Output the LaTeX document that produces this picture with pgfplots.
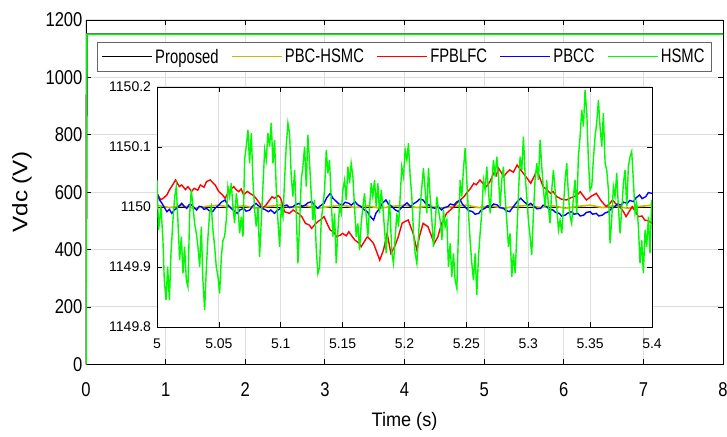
\documentclass[border=0pt]{standalone}
\usepackage{fontspec}
\setmainfont{Liberation Sans}
\newfontfamily\tickfont{Liberation Sans}[FakeStretch=0.83]
\newfontfamily\legfont{Liberation Sans}[FakeStretch=0.76]
\newfontfamily\labfont{Liberation Sans}[FakeStretch=0.93]
\newfontfamily\ylabfont{Liberation Sans}[FakeStretch=1.15]
\usepackage{pgfplots}
\pgfplotsset{compat=1.18}
\definecolor{cyel}{RGB}{210,185,0}
\definecolor{cgrn}{RGB}{0,250,0}
\definecolor{gridc}{RGB}{222,222,222}
\begin{document}
\begin{tikzpicture}
\useasboundingbox (-86pt,-71.7pt) rectangle (641pt,364.3pt);
\begin{axis}[name=main, at={(0pt,0pt)}, anchor=south west, scale only axis,
  width=637pt, height=344.3pt, xmin=0, xmax=8, ymin=0, ymax=1200,
  xtick={0,1,...,8}, ytick={0,200,...,1200},
  grid=major, major grid style={gridc, line width=1pt},
  tick align=inside, major tick length=5pt,
  axis line style={line width=0.9pt},
  every tick/.style={black, line width=0.8pt},
  /pgf/number format/assume math mode=true, /pgf/number format/1000 sep={},
  scaled ticks=false,
  tick label style={font=\fontsize{20}{20}\tickfont},
  x tick label style={anchor=base, yshift=-32.4pt},
  xlabel={Time (s)}, ylabel={Vdc (V)},
  xlabel style={font=\fontsize{19.5}{20}\labfont, at={(axis description cs:0.5,-0.1792)}, anchor=base},
  ylabel style={font=\fontsize{21}{22}\ylabfont, at={(axis description cs:-0.1005,0.5)}, anchor=center},
  legend columns=5,
  legend style={at={(0.0173,0.936)}, anchor=north west, draw=black!60, line width=0.8pt, fill=white,
    font=\fontsize{19.5}{20}\legfont, inner ysep=1.5pt, inner xsep=4pt,
    nodes={inner xsep=2.5pt, inner ysep=5pt},
    /tikz/every even column/.append style={column sep=10pt}},
  legend image code/.code={\draw[#1, line width=1.3pt] (0pt,0pt) -- (50pt,0pt);},
]
\addplot[black, line width=1.3pt] coordinates {(0,0)(0.01,1150)(8,1150)};
\addlegendentry{Proposed}
\addplot[cyel, line width=1.3pt] coordinates {(0,0)(0.01,1150)(8,1150)};
\addlegendentry{PBC-HSMC}
\addplot[red, line width=1.3pt] coordinates {(0,0)(0.01,1150)(8,1150)};
\addlegendentry{FPBLFC}
\addplot[blue, line width=1.3pt] coordinates {(0,0)(0.01,1150)(8,1150)};
\addlegendentry{PBCC}
\addplot[cgrn, line width=1.6pt] coordinates {(0,0)(0.01,1150)(8,1150)};
\addlegendentry{HSMC}
\end{axis}
% Inset (zoom 5 s to 5.4 s). y values below are Vdc - 1150 V (deviation from the 1150 V reference),
% kept as offsets so that TeX's arithmetic keeps their precision; tick labels show the absolute voltage.
\begin{axis}[at={(71pt,37.3pt)}, anchor=south west, scale only axis,
  width=495pt, height=240pt, xmin=5, xmax=5.4, ymin=-0.2, ymax=0.2,
  xtick={5,5.05,5.1,5.15,5.2,5.25,5.3,5.35,5.4},
  xticklabels={5,5.05,5.1,5.15,5.2,5.25,5.3,5.35,5.4},
  ytick={-0.2,-0.1,0,0.1,0.2},
  yticklabels={1149.8,1149.9,1150,1150.1,1150.2},
  grid=major, major grid style={gridc, line width=1pt},
  axis background/.style={fill=white},
  tick align=inside, major tick length=5pt,
  axis line style={line width=0.8pt},
  every tick/.style={black, line width=0.7pt},
  tick label style={font=\fontsize{14}{14}\selectfont},
  x tick label style={anchor=base, yshift=-21pt},
  y tick label style={xshift=-2.5pt},
]
\addplot[black, line width=1pt] coordinates {(5,0)(5.4,0)};
\addplot[cyel, line width=1.7pt] coordinates {(5.00,0.003)(5.01,-0.001)(5.02,0.002)(5.03,-0.002)(5.04,0.001)(5.05,0.003)(5.06,-0.001)(5.07,0.002)(5.08,-0.002)(5.09,0.001)(5.10,0.003)(5.11,-0.001)(5.12,0.002)(5.13,-0.002)(5.14,0.001)(5.15,0.003)(5.16,-0.001)(5.17,0.002)(5.18,-0.002)(5.19,0.001)(5.20,0.003)(5.21,-0.001)(5.22,0.002)(5.23,-0.002)(5.24,0.001)(5.25,0.003)(5.26,-0.001)(5.27,0.002)(5.28,-0.002)(5.29,0.001)(5.30,0.003)(5.31,-0.001)(5.32,0.002)(5.33,-0.002)(5.34,0.001)(5.35,0.003)(5.36,-0.001)(5.37,0.002)(5.38,-0.002)(5.39,0.001)(5.40,0.003)};
\addplot[red, line width=1.4pt] coordinates {(5.000,0.0228)(5.003,0.0120)(5.005,0.0145)(5.008,0.0200)(5.010,0.0284)(5.013,0.0380)(5.015,0.0451)(5.018,0.0340)(5.020,0.0367)(5.023,0.0290)(5.025,0.0339)(5.028,0.0260)(5.030,0.0312)(5.033,0.0280)(5.035,0.0367)(5.038,0.0330)(5.040,0.0423)(5.043,0.0451)(5.047,0.0367)(5.050,0.0256)(5.053,0.0200)(5.055,0.0145)(5.057,0.0220)(5.059,0.0284)(5.062,0.0339)(5.064,0.0290)(5.066,0.0256)(5.068,0.0300)(5.070,0.0200)(5.073,0.0260)(5.075,0.0228)(5.078,0.0190)(5.080,0.0145)(5.083,0.0060)(5.085,-0.0022)(5.088,0.0030)(5.090,0.0089)(5.093,0.0170)(5.095,0.0145)(5.098,0.0190)(5.100,0.0145)(5.103,-0.0078)(5.107,-0.0106)(5.110,-0.0050)(5.112,-0.0078)(5.115,-0.0120)(5.117,-0.0161)(5.120,-0.0273)(5.123,-0.0300)(5.125,-0.0356)(5.128,-0.0280)(5.130,-0.0245)(5.133,-0.0200)(5.135,-0.0161)(5.138,-0.0300)(5.140,-0.0384)(5.143,-0.0420)(5.145,-0.0495)(5.148,-0.0470)(5.150,-0.0440)(5.153,-0.0480)(5.155,-0.0412)(5.158,-0.0500)(5.160,-0.0551)(5.163,-0.0600)(5.165,-0.0662)(5.168,-0.0560)(5.170,-0.0495)(5.173,-0.0560)(5.175,-0.0607)(5.178,-0.0774)(5.180,-0.0885)(5.183,-0.0718)(5.186,-0.0440)(5.189,-0.0774)(5.192,-0.0662)(5.195,-0.0495)(5.198,-0.0273)(5.200,-0.0245)(5.203,-0.0217)(5.207,-0.0440)(5.210,-0.0718)(5.212,-0.0495)(5.215,-0.0273)(5.219,-0.0328)(5.222,-0.0495)(5.224,-0.0607)(5.227,-0.0495)(5.230,-0.0273)(5.234,-0.0106)(5.237,-0.0050)(5.240,0.0006)(5.242,0.0060)(5.245,0.0117)(5.248,0.0170)(5.250,0.0228)(5.253,0.0300)(5.256,0.0395)(5.258,0.0370)(5.261,0.0451)(5.263,0.0400)(5.266,0.0339)(5.269,0.0420)(5.272,0.0562)(5.274,0.0520)(5.276,0.0646)(5.278,0.0580)(5.280,0.0506)(5.283,0.0580)(5.285,0.0618)(5.288,0.0580)(5.291,0.0701)(5.293,0.0640)(5.296,0.0562)(5.299,0.0480)(5.302,0.0395)(5.305,0.0520)(5.307,0.0618)(5.310,0.0450)(5.312,0.0339)(5.315,0.0290)(5.318,0.0228)(5.320,0.0260)(5.323,0.0173)(5.327,0.0130)(5.331,0.0117)(5.334,0.0150)(5.337,0.0173)(5.340,0.0210)(5.342,0.0256)(5.345,0.0170)(5.347,0.0117)(5.351,0.0180)(5.355,0.0228)(5.359,0.0100)(5.363,0.0006)(5.366,0.0060)(5.368,0.0117)(5.371,0.0050)(5.374,0.0006)(5.377,-0.0080)(5.379,-0.0161)(5.382,-0.0060)(5.384,0.0006)(5.387,-0.0090)(5.389,-0.0161)(5.392,-0.0150)(5.394,-0.0217)(5.397,-0.0230)(5.400,-0.0273)};
\addplot[blue, line width=1.4pt] coordinates {(5.000,0.0228)(5.002,0.0120)(5.004,0.0061)(5.006,-0.0010)(5.008,-0.0078)(5.010,-0.0040)(5.012,-0.0106)(5.014,-0.0050)(5.016,-0.0022)(5.018,0.0020)(5.020,0.0061)(5.022,0.0010)(5.024,-0.0022)(5.026,0.0040)(5.028,0.0033)(5.030,-0.0010)(5.032,-0.0050)(5.034,0.0010)(5.036,0.0006)(5.038,-0.0040)(5.040,-0.0022)(5.042,-0.0060)(5.045,-0.0078)(5.047,-0.0020)(5.050,0.0033)(5.052,0.0080)(5.055,0.0117)(5.057,0.0040)(5.060,-0.0022)(5.062,-0.0060)(5.065,-0.0106)(5.067,-0.0050)(5.070,-0.0022)(5.072,-0.0070)(5.075,-0.0050)(5.077,0.0010)(5.080,0.0061)(5.082,0.0020)(5.085,-0.0022)(5.087,-0.0040)(5.090,-0.0078)(5.092,-0.0050)(5.095,-0.0106)(5.097,-0.0060)(5.100,-0.0022)(5.102,0.0020)(5.105,0.0033)(5.107,-0.0010)(5.110,0.0006)(5.112,0.0040)(5.115,0.0061)(5.117,0.0010)(5.120,0.0033)(5.122,0.0070)(5.125,0.0089)(5.127,0.0030)(5.130,-0.0022)(5.132,0.0020)(5.135,0.0061)(5.137,0.0150)(5.140,0.0228)(5.142,0.0150)(5.145,0.0089)(5.147,0.0050)(5.150,0.0033)(5.152,0.0080)(5.155,0.0061)(5.157,0.0030)(5.160,0.0089)(5.162,0.0040)(5.165,0.0006)(5.167,-0.0040)(5.170,-0.0078)(5.172,-0.0150)(5.175,-0.0217)(5.177,-0.0100)(5.180,-0.0022)(5.182,0.0060)(5.185,0.0117)(5.187,0.0050)(5.190,0.0006)(5.192,-0.0040)(5.195,-0.0078)(5.197,-0.0020)(5.200,0.0033)(5.202,0.0070)(5.205,0.0006)(5.207,0.0050)(5.210,0.0089)(5.212,0.0130)(5.215,0.0117)(5.217,0.0060)(5.220,0.0033)(5.222,-0.0010)(5.225,-0.0022)(5.227,0.0010)(5.230,-0.0050)(5.232,-0.0010)(5.235,0.0006)(5.237,0.0050)(5.240,0.0033)(5.242,0.0080)(5.245,0.0117)(5.247,0.0040)(5.250,-0.0022)(5.252,-0.0060)(5.255,-0.0078)(5.257,-0.0120)(5.260,-0.0106)(5.262,-0.0050)(5.265,-0.0022)(5.267,0.0020)(5.270,0.0006)(5.272,0.0050)(5.275,0.0033)(5.277,-0.0010)(5.280,-0.0022)(5.282,-0.0060)(5.285,-0.0078)(5.287,-0.0020)(5.290,0.0061)(5.292,0.0110)(5.294,0.0145)(5.297,0.0080)(5.300,0.0033)(5.302,0.0060)(5.305,0.0006)(5.307,-0.0030)(5.310,-0.0022)(5.312,0.0030)(5.315,0.0006)(5.317,-0.0040)(5.320,-0.0050)(5.322,-0.0090)(5.325,-0.0106)(5.327,-0.0150)(5.330,-0.0134)(5.332,-0.0100)(5.335,-0.0078)(5.337,-0.0120)(5.340,-0.0106)(5.342,-0.0150)(5.345,-0.0134)(5.347,-0.0090)(5.350,-0.0078)(5.352,-0.0120)(5.355,-0.0106)(5.357,-0.0150)(5.360,-0.0134)(5.362,-0.0100)(5.365,-0.0078)(5.367,-0.0030)(5.370,0.0006)(5.372,0.0050)(5.375,0.0033)(5.377,0.0080)(5.380,0.0061)(5.382,0.0110)(5.385,0.0089)(5.387,0.0150)(5.390,0.0200)(5.392,0.0140)(5.395,0.0173)(5.397,0.0240)(5.400,0.0228)};
\addplot[cgrn, line width=1.4pt] coordinates {(5.0000,0.0451)(5.0013,-0.0384)(5.0032,0.0006)(5.0048,-0.0551)(5.0059,-0.1219)(5.0073,-0.1553)(5.0086,-0.0996)(5.0100,-0.1553)(5.0113,-0.0774)(5.0129,-0.0217)(5.0143,0.0173)(5.0156,0.0339)(5.0170,-0.0273)(5.0183,-0.0885)(5.0197,-0.0495)(5.0210,-0.1107)(5.0223,-0.0662)(5.0237,-0.1219)(5.0250,-0.1330)(5.0264,-0.0106)(5.0277,0.0284)(5.0291,0.0006)(5.0304,-0.0273)(5.0318,-0.0440)(5.0331,-0.0662)(5.0345,-0.0996)(5.0358,-0.0328)(5.0371,-0.1219)(5.0385,-0.1720)(5.0398,-0.1052)(5.0412,-0.0495)(5.0425,-0.0106)(5.0439,0.0006)(5.0452,-0.0384)(5.0466,-0.0662)(5.0479,-0.0996)(5.0493,-0.1163)(5.0506,-0.1441)(5.0520,-0.0829)(5.0533,-0.0551)(5.0546,-0.0495)(5.0560,-0.0217)(5.0573,0.0339)(5.0587,0.0173)(5.0600,0.0395)(5.0614,0.0006)(5.0627,-0.0273)(5.0641,0.0228)(5.0654,0.0006)(5.0668,-0.0440)(5.0681,-0.0161)(5.0695,-0.0495)(5.0708,0.0785)(5.0721,0.1007)(5.0735,0.1286)(5.0748,0.0729)(5.0762,0.1230)(5.0775,0.0451)(5.0789,-0.0050)(5.0802,-0.0328)(5.0816,0.0006)(5.0829,-0.0829)(5.0843,-0.0217)(5.0856,0.0339)(5.0870,0.0952)(5.0883,0.0785)(5.0896,0.1230)(5.0910,0.1007)(5.0923,0.1397)(5.0937,0.0729)(5.0950,0.1119)(5.0964,0.0284)(5.0977,-0.0217)(5.0991,-0.0662)(5.1004,0.0006)(5.1018,-0.0161)(5.1031,0.0451)(5.1044,0.1007)(5.1058,0.1397)(5.1071,0.1230)(5.1085,0.0506)(5.1098,0.0173)(5.1112,0.0618)(5.1125,-0.0106)(5.1139,-0.0940)(5.1152,-0.0273)(5.1166,0.0451)(5.1179,0.0673)(5.1193,0.1007)(5.1206,0.0339)(5.1219,0.1202)(5.1233,0.0729)(5.1246,0.0228)(5.1260,-0.0217)(5.1273,0.0117)(5.1287,-0.0718)(5.1300,-0.1107)(5.1314,-0.0996)(5.1327,-0.0217)(5.1341,0.0006)(5.1354,0.0284)(5.1368,0.0952)(5.1381,0.0562)(5.1394,0.0785)(5.1408,0.0117)(5.1421,-0.0495)(5.1435,-0.0106)(5.1448,-0.0940)(5.1462,-0.0384)(5.1475,0.0006)(5.1489,-0.0106)(5.1502,0.0284)(5.1516,0.0451)(5.1529,0.0117)(5.1543,0.0673)(5.1556,0.0395)(5.1569,0.0729)(5.1583,0.0506)(5.1596,0.0006)(5.1610,-0.0495)(5.1623,-0.0273)(5.1637,-0.0718)(5.1650,-0.0273)(5.1664,0.0006)(5.1677,0.0228)(5.1691,-0.0161)(5.1704,-0.0495)(5.1718,0.0006)(5.1731,0.0395)(5.1744,0.0173)(5.1758,0.0451)(5.1771,0.0006)(5.1785,0.0395)(5.1798,-0.0106)(5.1812,0.0284)(5.1825,0.0006)(5.1839,-0.0384)(5.1852,-0.0774)(5.1866,-0.0273)(5.1879,0.0117)(5.1898,-0.0774)(5.1911,-0.0940)(5.1925,-0.0495)(5.1938,-0.0106)(5.1952,-0.0328)(5.1965,0.0173)(5.1978,0.0673)(5.1992,0.0506)(5.2005,0.0952)(5.2019,0.0785)(5.2032,0.1063)(5.2046,0.0506)(5.2059,0.0173)(5.2073,-0.0440)(5.2086,-0.0774)(5.2100,-0.0940)(5.2113,-0.0495)(5.2127,0.0006)(5.2140,0.0339)(5.2153,0.0646)(5.2167,0.0284)(5.2180,-0.0106)(5.2194,0.0646)(5.2207,0.0173)(5.2221,-0.0217)(5.2234,-0.0662)(5.2248,-0.0273)(5.2261,0.0173)(5.2275,-0.0050)(5.2288,-0.0217)(5.2302,-0.0551)(5.2315,-0.0050)(5.2328,-0.0328)(5.2342,-0.0217)(5.2355,-0.0996)(5.2369,-0.0607)(5.2382,-0.1163)(5.2396,-0.0774)(5.2409,-0.1219)(5.2423,-0.1358)(5.2436,-0.0384)(5.2450,0.0451)(5.2463,0.0173)(5.2476,0.0618)(5.2490,0.0979)(5.2503,0.0451)(5.2517,-0.0106)(5.2530,-0.0551)(5.2544,-0.0940)(5.2557,-0.1219)(5.2571,-0.0774)(5.2584,-0.1469)(5.2598,-0.0829)(5.2611,-0.0440)(5.2624,-0.0106)(5.2638,0.0451)(5.2651,0.0284)(5.2665,0.0673)(5.2678,0.0284)(5.2692,-0.0106)(5.2705,0.0395)(5.2719,0.0785)(5.2732,0.0506)(5.2746,0.0840)(5.2759,0.0506)(5.2773,0.0006)(5.2786,0.0451)(5.2799,0.0673)(5.2813,0.0173)(5.2826,-0.0217)(5.2840,-0.0662)(5.2853,-0.0440)(5.2867,-0.1163)(5.2880,-0.0774)(5.2894,-0.1107)(5.2907,-0.0495)(5.2921,0.0228)(5.2934,0.0840)(5.2948,0.0618)(5.2961,0.1174)(5.2974,0.0562)(5.2988,0.0173)(5.3001,-0.0217)(5.3015,-0.0495)(5.3028,-0.0801)(5.3042,-0.0106)(5.3055,0.0451)(5.3069,0.0729)(5.3082,0.0451)(5.3096,0.1119)(5.3109,0.0673)(5.3123,0.0284)(5.3136,0.0006)(5.3149,0.0451)(5.3163,0.0006)(5.3176,-0.0273)(5.3190,0.0284)(5.3203,0.0618)(5.3217,0.0284)(5.3230,0.0006)(5.3244,-0.0384)(5.3257,-0.0217)(5.3271,-0.0440)(5.3284,0.0006)(5.3298,0.0451)(5.3311,0.0729)(5.3324,0.0228)(5.3338,-0.0161)(5.3351,-0.0273)(5.3365,0.0173)(5.3378,0.0451)(5.3392,-0.0106)(5.3405,0.0840)(5.3419,0.1174)(5.3432,0.1619)(5.3446,0.1341)(5.3459,0.1953)(5.3473,0.1564)(5.3486,0.0785)(5.3499,0.0284)(5.3513,0.0339)(5.3526,0.0785)(5.3540,0.1174)(5.3553,0.1397)(5.3567,0.1786)(5.3580,0.1341)(5.3594,0.1007)(5.3607,0.1564)(5.3621,0.0729)(5.3634,0.0618)(5.3648,0.0284)(5.3661,-0.0607)(5.3674,-0.0217)(5.3688,0.0339)(5.3701,0.0173)(5.3715,0.0562)(5.3728,0.0006)(5.3742,-0.0440)(5.3755,-0.0050)(5.3769,0.0395)(5.3782,0.0618)(5.3796,0.0006)(5.3809,0.0673)(5.3823,0.0840)(5.3836,0.0924)(5.3849,0.0451)(5.3863,-0.0106)(5.3876,0.0061)(5.3890,-0.0328)(5.3903,-0.0940)(5.3917,-0.0551)(5.3930,-0.1107)(5.3944,-0.0384)(5.3957,-0.0662)(5.3971,-0.0161)(5.3984,-0.0774)(5.3998,0.0117)};
\end{axis}
\end{tikzpicture}
\end{document}
